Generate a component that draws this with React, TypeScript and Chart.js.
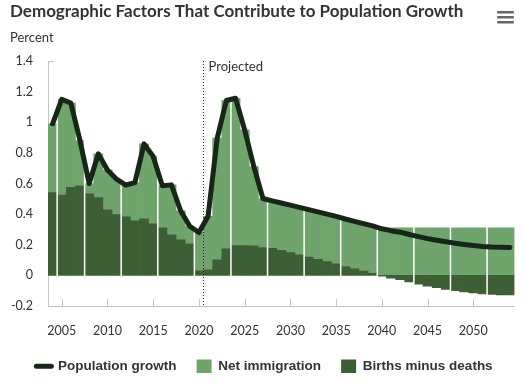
import React, { useEffect, useRef } from 'react';
import { Chart, registerables } from 'chart.js';

Chart.register(...registerables);

const years = [
  '2004', '2005', '2006', '2007', '2008', '2009', '2010', '2011', '2012', '2013',
  '2014', '2015', '2016', '2017', '2018', '2019', '2020', '2021', '2022', '2023',
  '2024', '2025', '2026', '2027', '2028', '2029', '2030', '2031', '2032', '2033',
  '2034', '2035', '2036', '2037', '2038', '2039', '2040', '2041', '2042', '2043',
  '2044', '2045', '2046', '2047', '2048', '2049', '2050', '2051', '2052', '2053', '2054',
];

const populationGrowth = [
  0.99, 1.15, 1.125, 0.88, 0.6, 0.794, 0.688, 0.628, 0.59, 0.606,
  0.859, 0.776, 0.585, 0.591, 0.422, 0.321, 0.28, 0.386, 0.896, 1.142,
  1.157, 0.95, 0.711, 0.502, 0.487, 0.473, 0.459, 0.444, 0.429, 0.415,
  0.4, 0.385, 0.368, 0.353, 0.338, 0.323, 0.304, 0.292, 0.282, 0.267,
  0.253, 0.24, 0.229, 0.219, 0.21, 0.202, 0.195, 0.189, 0.185, 0.183, 0.182,
];

const netImmigration = [
  0.45, 0.625, 0.55, 0.295, 0.068, 0.286, 0.26, 0.231, 0.208, 0.25,
  0.49, 0.44, 0.275, 0.326, 0.19, 0.115, 0.25, 0.35, 0.795, 0.969,
  0.963, 0.756, 0.518, 0.32, 0.31, 0.31, 0.31, 0.31, 0.31, 0.31,
  0.31, 0.31, 0.31, 0.31, 0.31, 0.31, 0.31, 0.31, 0.31, 0.31,
  0.31, 0.31, 0.31, 0.31, 0.31, 0.31, 0.31, 0.31, 0.31, 0.31, 0.31,
];

const birthsMinusDeaths = [
  0.54, 0.525, 0.575, 0.585, 0.532, 0.508, 0.428, 0.397, 0.382, 0.356,
  0.369, 0.336, 0.31, 0.265, 0.232, 0.206, 0.03, 0.036, 0.101, 0.173,
  0.194, 0.194, 0.193, 0.182, 0.177, 0.163, 0.149, 0.134, 0.119, 0.105,
  0.09, 0.075, 0.058, 0.043, 0.028, 0.013, -0.006, -0.018, -0.028, -0.043,
  -0.057, -0.07, -0.081, -0.091, -0.1, -0.108, -0.115, -0.121, -0.125, -0.127, -0.128,
];

const xTickLabels = ['2005', '2010', '2015', '2020', '2025', '2030', '2035', '2040', '2045', '2050'];
const whiteLineAfter = ['2004', '2007', '2011', '2015', '2019', '2023', '2027', '2031', '2035', '2039', '2043', '2047', '2051'];
const projectedAfter = '2020';

const TITLE = 'Demographic Factors That Contribute to Population Growth';
const SUBTITLE = 'Percent';
const PROJECTED = 'Projected';

const LINE_COLOR = '#172617';
const LIGHT = '#70a46d';
const DARK = '#3d5f35';
const AXIS = '#c4c4c4';
const TEXT = '#333333';
const FONT = 'Lato, "Noto Sans", sans-serif';

const decor = {
  id: 'decor',
  beforeDatasetDraw(chart: any, args: any) {
    if (args.index !== 0) return;
    const { ctx, chartArea } = chart;
    const xs = chart.scales.x;
    ctx.save();
    ctx.strokeStyle = '#ffffff';
    ctx.lineWidth = 1.5;
    whiteLineAfter.forEach((c) => {
      const i = years.indexOf(c);
      const px = (xs.getPixelForValue(i) + xs.getPixelForValue(i + 1)) / 2;
      ctx.beginPath();
      ctx.moveTo(px, chartArea.top);
      ctx.lineTo(px, chartArea.bottom - 1);
      ctx.stroke();
    });
    ctx.restore();
  },
  afterDatasetsDraw(chart: any) {
    const { ctx, chartArea } = chart;
    const xs = chart.scales.x;
    ctx.save();
    // inward x ticks
    ctx.strokeStyle = AXIS;
    ctx.lineWidth = 1;
    xTickLabels.forEach((c) => {
      const px = Math.round(xs.getPixelForValue(years.indexOf(c))) + 0.5;
      ctx.beginPath();
      ctx.moveTo(px, chartArea.bottom - 7);
      ctx.lineTo(px, chartArea.bottom);
      ctx.stroke();
    });
    // y axis top cap
    ctx.beginPath();
    ctx.moveTo(chartArea.left, chartArea.top + 0.5);
    ctx.lineTo(chartArea.left + 6, chartArea.top + 0.5);
    ctx.stroke();
    // projected dotted line
    const i = years.indexOf(projectedAfter);
    const dx = Math.round((xs.getPixelForValue(i) + xs.getPixelForValue(i + 1)) / 2) + 0.5;
    ctx.strokeStyle = '#222222';
    ctx.setLineDash([1, 2]);
    ctx.beginPath();
    ctx.moveTo(dx, chartArea.top);
    ctx.lineTo(dx, chartArea.bottom);
    ctx.stroke();
    ctx.setLineDash([]);
    ctx.fillStyle = TEXT;
    ctx.font = '13px ' + FONT;
    ctx.textAlign = 'left';
    ctx.textBaseline = 'alphabetic';
    ctx.fillText(PROJECTED, dx + 5, chartArea.top + 9.5);
    ctx.restore();
  },
  afterDraw(chart: any) {
    const { ctx } = chart;
    ctx.save();
    ctx.fillStyle = '#666666';
    const w = chart.width;
    [11, 16, 21].forEach((y) => {
      ctx.beginPath();
      ctx.roundRect(w - 30, y, 17, 2.5, 1);
      ctx.fill();
    });
    ctx.restore();
  },
};

export default function App() {
  const ref = useRef<HTMLCanvasElement | null>(null);

  useEffect(() => {
    document.body.style.margin = '0';
    if (!ref.current) return;
    const chart = new Chart(ref.current, {
      type: 'bar',
      data: {
        labels: years,
        datasets: [
          {
            type: 'line',
            label: 'Population growth',
            data: populationGrowth,
            borderColor: LINE_COLOR,
            backgroundColor: LINE_COLOR,
            borderWidth: 5,
            pointRadius: 0,
            tension: 0,
            borderCapStyle: 'round',
            borderJoinStyle: 'round',
            fill: false,
            stack: 'line',
            order: 0,
          } as any,
          {
            type: 'bar',
            label: 'Births minus deaths',
            data: birthsMinusDeaths,
            backgroundColor: DARK,
            borderWidth: 0,
            barPercentage: 1,
            categoryPercentage: 1,
            stack: 'bars',
            order: 1,
          },
          {
            type: 'bar',
            label: 'Net immigration',
            data: netImmigration,
            backgroundColor: LIGHT,
            borderWidth: 0,
            barPercentage: 1,
            categoryPercentage: 1,
            stack: 'bars',
            order: 1,
          },
        ],
      },
      options: {
        responsive: false,
        animation: false,
        layout: { padding: { left: 10, right: 8, top: 0, bottom: 3 } },
        scales: {
          x: {
            stacked: true,
            offset: true,
            grid: { display: false, drawTicks: false },
            border: { display: true, color: AXIS, width: 1 },
            ticks: {
              autoSkip: false,
              maxRotation: 0,
              padding: 17,
              color: TEXT,
              font: { family: FONT, size: 12.5 },
              callback: (_v: any, i: number) => (xTickLabels.includes(years[i]) ? years[i] : ''),
            },
            afterFit: (s: any) => {
              s.height = 33.5;
            },
          },
          y: {
            stacked: true,
            min: -0.2,
            max: 1.4,
            grid: { display: false, drawTicks: false },
            border: { display: true, color: AXIS, width: 1 },
            ticks: {
              stepSize: 0.2,
              padding: 15,
              color: TEXT,
              font: { family: FONT, size: 12.5 },
              callback: (v: any) => String(Number(Number(v).toFixed(1))),
            },
            afterFit: (s: any) => {
              s.width = 38;
            },
          },
        },
        plugins: {
          title: {
            display: true,
            text: TITLE,
            align: 'start',
            color: TEXT,
            font: { family: FONT, size: 17, weight: 'bold' },
            padding: { top: 1, bottom: 2 },
          },
          subtitle: {
            display: true,
            text: SUBTITLE,
            align: 'start',
            color: TEXT,
            font: { family: FONT, size: 13 },
            padding: { top: 7, bottom: 15 },
          },
          legend: {
            display: true,
            position: 'bottom',
            labels: {
              usePointStyle: true,
              pointStyleWidth: 15,
              boxHeight: 15,
              padding: 20,
              color: TEXT,
              font: { family: '"Liberation Sans", Arial, sans-serif', size: 13.5, weight: 'bold' },
              generateLabels: () => [
                { text: 'Population growth', fillStyle: LINE_COLOR, strokeStyle: LINE_COLOR, lineWidth: 5, lineCap: 'round', pointStyle: 'line', datasetIndex: 0, hidden: false, fontColor: TEXT } as any,
                { text: 'Net immigration', fillStyle: LIGHT, strokeStyle: LIGHT, lineWidth: 0, pointStyle: 'rect', datasetIndex: 2, hidden: false, fontColor: TEXT } as any,
                { text: 'Births minus deaths', fillStyle: DARK, strokeStyle: DARK, lineWidth: 0, pointStyle: 'rect', datasetIndex: 1, hidden: false, fontColor: TEXT } as any,
              ],
            },
          },
          tooltip: { enabled: false },
        },
      },
      plugins: [decor],
    } as any);
    return () => chart.destroy();
  }, []);

  return (
    <div style={{ width: 527, height: 386 }}>
      <canvas ref={ref} width={527} height={386} style={{ display: 'block' }} />
    </div>
  );
}
